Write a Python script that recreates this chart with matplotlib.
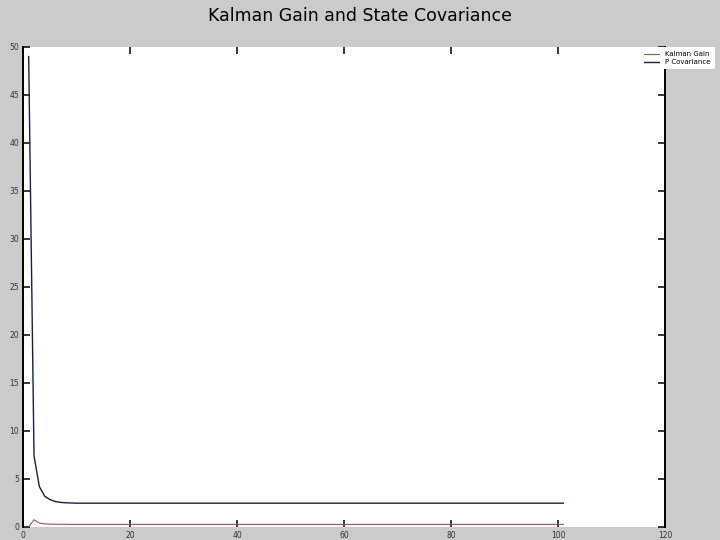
import numpy as np
import matplotlib
matplotlib.use('Agg')
import matplotlib.pyplot as plt

# values (step index 1..101)
steps = np.arange(1, 102)
cov_head = [49.0, 7.4, 4.2, 3.2, 2.85, 2.65, 2.56, 2.52, 2.50]
gain_head = [0.0, 0.75, 0.40, 0.32, 0.30, 0.29, 0.28, 0.28, 0.27]
cov_tail = 2.48
gain_tail = 0.27

state_cov = cov_head + [cov_tail] * (len(steps) - len(cov_head))
kalman_gain = gain_head + [gain_tail] * (len(steps) - len(gain_head))

x_ticks = [0, 20, 40, 60, 80, 100, 120]
y_ticks = [0, 5, 10, 15, 20, 25, 30, 35, 40, 45, 50]

bg = '#cbcbcb'
fig = plt.figure(figsize=(7.2, 5.4), dpi=100, facecolor=bg)
ax = fig.add_axes([0.0324, 0.0241, 0.8912, 0.8889])

ax.plot(steps, kalman_gain, color='#a05050', lw=0.8, label='Kalman Gain')
ax.plot(steps, state_cov, color='#1c1c4c', lw=1.0, label='P Covariance')

ax.set_xlim(0, 120)
ax.set_ylim(0, 50)
ax.set_xticks(x_ticks)
ax.set_yticks(y_ticks)
ax.tick_params(direction='in', length=5, width=1.1, labelsize=5.5,
               top=True, right=True, pad=3, colors='black')
for lab in ax.get_xticklabels() + ax.get_yticklabels():
    lab.set_color('#333333')

ax.spines['top'].set_visible(False)
ax.spines['bottom'].set_visible(False)
ax.spines['left'].set_linewidth(1.4)
ax.spines['right'].set_linewidth(1.4)

leg = ax.legend(loc='upper left', bbox_to_anchor=(640 / 720, 1 - 47 / 540),
                bbox_transform=fig.transFigure, borderaxespad=0,
                fontsize=5, handlelength=2.2, handletextpad=0.8,
                borderpad=0.6, labelspacing=0.3, fancybox=False,
                framealpha=1)
leg.get_frame().set_edgecolor('none')
leg.get_frame().set_facecolor('white')

fig.suptitle('Kalman Gain and State Covariance', y=1 - 16 / 540, va='center',
             fontsize=12.5)

fig.savefig('out.png', dpi=100, facecolor=bg)
